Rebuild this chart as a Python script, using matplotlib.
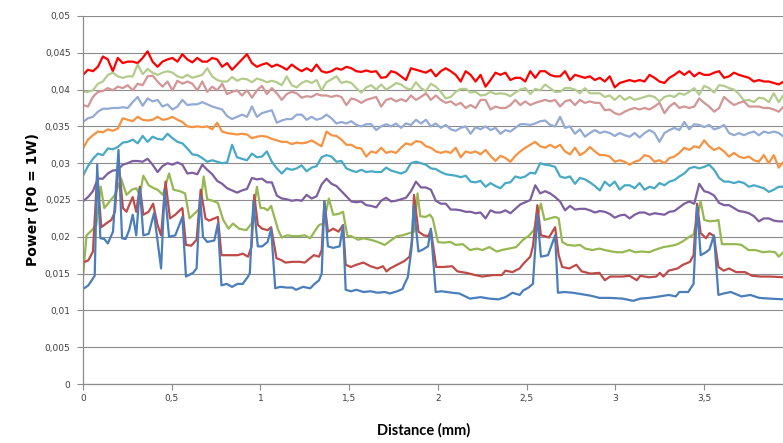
import numpy as np
import matplotlib
matplotlib.use("Agg")
import matplotlib.pyplot as plt
from matplotlib.ticker import FuncFormatter

# values in units of 1e-3 W (P0 = 1 W)
# upper curves: sampled every 0.028 mm
step_mm = 0.028

top_red = [42.0, 42.7, 42.5, 43.1, 44.5, 44.1, 42.5, 44.3, 43.6, 43.8,
           43.8, 43.6, 44.3, 45.2, 43.8, 43.1, 43.8, 44.1, 44.3, 43.8,
           44.8, 44.1, 43.7, 44.3, 43.8, 43.8, 44.3, 44.1, 43.1, 43.6,
           42.7, 43.4, 44.1, 44.8, 43.6, 43.1, 43.4, 43.6, 43.1, 43.4,
           43.1, 42.7, 43.4, 42.9, 42.5, 42.9, 42.5, 43.4, 42.5, 42.3,
           42.5, 42.9, 42.7, 43.1, 42.9, 42.5, 42.4, 42.6, 42.4, 42.5,
           41.6, 41.7, 42.5, 42.3, 41.8, 41.3, 42.9, 42.7, 42.5, 42.3,
           42.7, 41.8, 42.5, 42.9, 42.5, 42.0, 41.1, 42.5, 42.0, 41.1,
           42.0, 40.4, 41.3, 42.3, 42.0, 42.3, 41.3, 41.6, 41.6, 41.1,
           42.5, 41.6, 42.5, 42.5, 42.0, 41.8, 41.8, 42.5, 41.3, 42.0,
           41.8, 41.6, 41.8, 41.3, 41.6, 41.1, 41.8, 40.3, 40.9, 41.1,
           41.3, 41.1, 41.3, 41.1, 42.0, 41.6, 41.1, 40.9, 41.6, 42.0,
           42.5, 42.0, 42.5, 41.8, 42.3, 42.0, 42.0, 42.3, 42.5, 41.6,
           41.8, 42.3, 42.0, 41.8, 41.6, 41.1, 41.3, 41.1, 41.1, 40.9,
           40.7, 41.1]

light_green = [39.7, 39.7, 39.9, 40.8, 41.1, 42.0, 42.3, 41.8, 41.6, 41.8,
               41.8, 43.4, 42.1, 42.8, 42.3, 42.0, 42.3, 42.5, 42.3, 41.8,
               41.6, 42.0, 41.6, 41.8, 42.0, 42.9, 41.8, 41.3, 41.1, 41.1,
               41.7, 41.2, 41.5, 41.4, 41.0, 41.5, 41.3, 41.0, 41.2, 41.0,
               40.6, 41.8, 40.6, 40.3, 40.9, 41.2, 40.9, 41.3, 39.9, 41.0,
               41.4, 41.8, 40.9, 41.1, 40.9, 40.2, 39.6, 40.3, 40.6, 40.0,
               40.7, 40.0, 40.4, 40.9, 40.7, 40.2, 40.0, 41.0, 40.2, 39.8,
               40.8, 40.4, 39.7, 38.8, 39.0, 39.7, 40.1, 40.1, 39.6, 39.7,
               39.2, 39.3, 39.7, 39.4, 39.5, 39.4, 39.1, 39.6, 40.0, 40.2,
               39.4, 40.1, 39.9, 40.7, 40.2, 39.7, 39.7, 40.2, 40.2, 40.0,
               39.5, 40.2, 39.5, 39.5, 39.5, 39.0, 39.2, 38.6, 39.2, 38.6,
               39.0, 38.6, 38.8, 39.0, 39.2, 39.0, 38.4, 39.0, 39.2, 39.0,
               39.5, 39.3, 39.7, 40.2, 39.3, 40.5, 40.2, 39.6, 40.6, 40.5,
               40.2, 40.0, 39.4, 38.5, 38.6, 38.3, 38.9, 38.8, 38.3, 39.5,
               38.3, 39.3]

pink = [37.9, 37.7, 39.0, 39.7, 39.8, 40.2, 39.9, 40.4, 40.2, 40.6,
        39.9, 40.8, 40.6, 41.8, 41.9, 41.1, 40.4, 41.1, 39.9, 41.2,
        40.8, 41.1, 40.8, 39.9, 41.1, 39.7, 40.4, 39.9, 40.8, 39.4,
        39.7, 39.9, 39.2, 39.9, 38.9, 39.9, 40.5, 39.4, 40.2, 39.5,
        38.6, 39.4, 39.7, 39.5, 38.9, 39.1, 39.0, 39.4, 39.2, 39.2,
        39.0, 39.2, 39.0, 37.9, 38.8, 38.6, 38.2, 38.6, 38.8, 39.0,
        37.7, 38.6, 38.8, 38.4, 38.7, 38.4, 39.2, 38.6, 39.0, 39.5,
        38.6, 39.2, 38.6, 38.2, 38.4, 37.9, 38.2, 37.5, 37.9, 37.5,
        38.6, 38.6, 37.3, 37.7, 37.5, 37.5, 37.9, 38.6, 37.9, 38.4,
        37.9, 38.2, 38.4, 38.6, 38.4, 38.6, 37.7, 38.4, 38.6, 37.9,
        38.6, 38.2, 38.4, 38.2, 38.2, 37.2, 37.3, 36.8, 36.6, 37.0,
        37.3, 37.5, 37.3, 37.5, 37.3, 37.7, 38.2, 36.8, 37.7, 38.2,
        37.5, 37.7, 37.5, 37.7, 38.8, 38.2, 37.7, 37.0, 37.5, 39.0,
        38.4, 37.9, 38.2, 38.4, 37.7, 37.7, 37.7, 37.5, 37.5, 37.3,
        37.0, 37.7]

light_blue = [35.6, 36.1, 36.3, 37.0, 37.4, 37.4, 37.5, 37.5, 37.6, 37.5,
              38.3, 39.0, 37.8, 38.8, 38.4, 38.6, 37.7, 38.0, 37.3, 37.7,
              38.6, 37.9, 38.0, 38.0, 38.3, 38.0, 37.7, 37.5, 37.3, 36.4,
              36.0, 36.3, 36.6, 36.3, 37.7, 36.3, 36.8, 37.0, 37.2, 35.5,
              35.8, 36.0, 36.0, 36.6, 36.6, 35.9, 36.3, 35.9, 36.1, 36.6,
              36.1, 35.4, 35.6, 35.4, 35.7, 35.2, 35.0, 35.3, 35.3, 34.5,
              35.0, 35.3, 35.0, 35.4, 34.8, 35.4, 35.2, 35.9, 35.4, 35.9,
              35.0, 35.4, 34.8, 35.2, 34.6, 34.4, 34.8, 35.0, 34.0, 34.9,
              34.6, 35.0, 34.5, 34.8, 34.0, 34.5, 34.3, 34.8, 35.3, 35.3,
              35.2, 35.4, 35.7, 35.8, 35.2, 35.0, 36.3, 34.8, 35.0, 34.0,
              34.6, 33.6, 34.1, 34.5, 34.1, 34.3, 34.1, 33.7, 34.1, 33.8,
              33.6, 34.1, 33.5, 34.1, 34.5, 34.1, 32.9, 34.1, 34.5, 34.8,
              34.5, 35.6, 34.6, 35.3, 35.2, 34.9, 35.2, 34.6, 34.8, 35.2,
              34.1, 33.8, 34.1, 33.8, 34.1, 34.3, 33.8, 34.3, 34.1, 34.3,
              34.1, 33.6]

orange = [32.0, 33.2, 33.8, 34.3, 34.2, 34.6, 34.4, 34.7, 36.1, 35.9,
          35.7, 36.3, 35.9, 35.8, 35.9, 36.3, 35.9, 36.0, 36.3, 35.9,
          35.6, 35.0, 34.9, 35.0, 34.9, 35.0, 34.6, 35.5, 34.3, 34.1,
          34.0, 33.9, 34.0, 33.9, 33.4, 33.6, 33.7, 33.6, 33.3, 33.1,
          32.9, 32.9, 32.6, 32.8, 32.7, 32.8, 33.1, 32.7, 32.3, 34.3,
          33.8, 33.7, 33.2, 32.5, 32.5, 32.1, 32.0, 30.9, 31.6, 31.4,
          32.1, 31.4, 31.6, 31.4, 32.1, 32.7, 32.5, 33.0, 32.9, 32.3,
          32.1, 31.6, 31.4, 31.6, 31.4, 32.1, 30.8, 31.6, 31.4, 31.6,
          31.2, 31.8, 31.0, 30.3, 31.0, 30.7, 30.2, 31.0, 31.6, 32.1,
          32.5, 32.9, 32.3, 32.1, 32.5, 32.1, 32.5, 31.6, 31.2, 32.1,
          31.1, 31.5, 32.2, 31.6, 31.1, 31.1, 30.9, 30.2, 30.4, 30.2,
          29.8, 30.2, 30.4, 31.1, 30.9, 30.2, 30.4, 30.0, 30.7, 30.9,
          31.4, 32.1, 31.8, 32.3, 32.1, 33.1, 32.3, 31.8, 32.1, 31.6,
          30.9, 31.4, 30.9, 30.7, 30.9, 30.4, 30.2, 31.1, 30.0, 31.1,
          29.4, 30.2]

teal = [28.3, 29.6, 30.6, 31.3, 31.1, 32.0, 31.9, 32.2, 32.8, 32.9,
        33.2, 32.7, 33.7, 32.9, 33.6, 33.3, 33.2, 34.0, 33.4, 32.9,
        32.7, 32.0, 31.2, 31.1, 30.7, 30.2, 30.4, 30.2, 30.0, 30.1,
        32.5, 30.8, 30.6, 30.4, 31.3, 30.8, 30.9, 31.6, 30.2, 29.3,
        28.6, 29.3, 29.1, 29.3, 29.7, 28.9, 29.4, 29.6, 30.8, 31.1,
        30.9, 30.2, 30.3, 29.3, 29.0, 28.8, 29.1, 28.8, 28.9, 28.8,
        28.8, 29.4, 29.0, 28.8, 28.6, 28.9, 30.0, 30.2, 30.0, 29.8,
        29.3, 29.2, 28.8, 28.5, 28.4, 28.3, 28.1, 28.3, 27.5, 27.4,
        27.6, 26.8, 27.3, 26.9, 26.6, 27.3, 27.4, 28.2, 28.0, 28.2,
        28.7, 28.6, 30.0, 29.8, 29.7, 29.5, 28.2, 28.0, 28.2, 27.2,
        28.0, 27.8, 27.4, 26.9, 26.3, 27.5, 26.9, 27.5, 26.4, 27.0,
        27.0, 26.6, 27.3, 26.4, 26.8, 26.6, 27.3, 27.0, 27.5, 27.7,
        28.2, 28.6, 29.3, 29.5, 29.3, 29.5, 29.8, 29.1, 28.0, 27.5,
        27.5, 27.3, 27.5, 27.3, 26.8, 27.0, 26.8, 26.6, 26.1, 26.4,
        26.8, 26.8]

purple = [24.8, 25.4, 26.2, 27.9, 27.9, 28.6, 29.0, 29.1, 29.8, 30.0,
          30.3, 30.3, 30.2, 30.6, 29.8, 28.8, 29.6, 30.0, 29.8, 30.1,
          29.8, 28.6, 28.7, 28.5, 29.8, 29.1, 28.5, 27.6, 27.2, 26.6,
          26.3, 26.0, 26.3, 26.5, 28.0, 27.8, 27.9, 27.4, 27.4, 25.6,
          25.2, 25.1, 24.9, 25.0, 24.9, 25.7, 25.2, 25.5, 27.1, 27.9,
          27.2, 26.9, 26.2, 25.5, 24.8, 24.7, 24.8, 24.3, 24.2, 24.0,
          24.9, 25.3, 24.8, 24.9, 25.1, 25.3, 26.2, 27.5, 26.7, 26.7,
          26.4, 24.9, 24.5, 24.5, 23.7, 23.7, 23.6, 23.4, 23.4, 23.2,
          23.3, 22.5, 23.6, 23.3, 23.3, 23.6, 23.2, 23.8, 24.4, 24.7,
          25.0, 27.0, 25.9, 26.2, 25.9, 25.4, 24.8, 23.6, 24.2, 23.7,
          23.8, 23.8, 23.6, 23.3, 23.5, 23.4, 23.1, 22.6, 22.9, 23.0,
          22.5, 23.0, 23.3, 23.3, 23.0, 23.2, 23.1, 23.0, 23.4, 23.5,
          24.0, 24.5, 24.8, 24.5, 27.2, 26.2, 26.0, 25.6, 24.6, 24.3,
          24.3, 23.9, 23.5, 23.4, 23.2, 22.8, 22.1, 22.5, 22.5, 22.2,
          22.1, 22.1]

# lower curves with sharp peaks: explicit distances (mm)
green_x = [0, 0.02, 0.05, 0.075, 0.10, 0.12, 0.15, 0.18, 0.215, 0.245, 0.275, 0.30,
           0.32, 0.34, 0.37, 0.40, 0.42, 0.45, 0.485, 0.51, 0.545, 0.575, 0.60, 0.63,
           0.66, 0.68, 0.70, 0.73, 0.76, 0.79, 0.82, 0.845, 0.88, 0.92, 0.95, 0.98,
           1.0, 1.02, 1.04, 1.06, 1.10, 1.12, 1.15, 1.18, 1.22, 1.25, 1.28, 1.31,
           1.33, 1.355, 1.385, 1.41, 1.44, 1.465, 1.49, 1.51, 1.55, 1.58, 1.62, 1.66,
           1.70, 1.74, 1.77, 1.80, 1.84, 1.865, 1.885, 1.90, 1.93, 1.955, 1.97, 2.00,
           2.03, 2.07, 2.10, 2.14, 2.18, 2.22, 2.25, 2.29, 2.33, 2.36, 2.40, 2.44,
           2.48, 2.51, 2.54, 2.58, 2.60, 2.63, 2.66, 2.68, 2.70, 2.73, 2.77, 2.80,
           2.83, 2.87, 2.91, 2.94, 2.98, 3.01, 3.04, 3.08, 3.11, 3.15, 3.19, 3.22,
           3.27, 3.32, 3.35, 3.38, 3.41, 3.44, 3.48, 3.50, 3.53, 3.57, 3.58, 3.60,
           3.64, 3.68, 3.71, 3.75, 3.79, 3.83, 3.87, 3.90, 3.92, 3.95]
green = [14.6, 20.2, 20.9, 21.6, 26.8, 23.9, 24.8, 25.7, 27.9, 25.7, 26.4, 26.6,
         25.7, 28.3, 27.0, 26.6, 26.4, 25.7, 28.6, 26.4, 26.2, 25.9, 22.5, 23.2,
         23.9, 28.2, 25.1, 24.9, 24.6, 22.3, 21.1, 21.8, 21.1, 20.9, 21.8, 26.8,
         23.9, 23.9, 23.6, 24.2, 20.9, 19.9, 20.2, 20.1, 20.1, 20.2, 19.8, 20.9,
         21.6, 21.8, 25.2, 23.0, 23.1, 23.4, 20.1, 20.1, 19.6, 19.8, 19.6, 19.3,
         18.9, 19.6, 20.1, 20.2, 20.5, 20.7, 25.9, 22.8, 22.7, 23.0, 22.5, 19.3,
         19.2, 19.3, 18.9, 19.0, 18.2, 18.4, 18.2, 18.6, 18.0, 18.2, 18.4, 18.6,
         19.6, 20.1, 20.9, 24.5, 22.3, 22.5, 22.7, 22.5, 19.3, 18.9, 18.8, 18.9,
         18.4, 18.2, 18.4, 18.2, 18.0, 17.9, 17.9, 18.2, 17.9, 18.0, 17.9, 18.2,
         18.6, 18.8, 19.0, 19.4, 19.9, 20.3, 24.8, 22.3, 22.1, 22.2, 22.3, 19.0,
         19.0, 19.0, 18.9, 18.2, 18.2, 17.9, 18.0, 17.9, 17.3, 18.0]

red_x = [0, 0.03, 0.056, 0.08, 0.103, 0.13, 0.16, 0.18, 0.20, 0.225, 0.245, 0.26,
         0.28, 0.30, 0.32, 0.34, 0.37, 0.395, 0.42, 0.44, 0.465, 0.49, 0.52, 0.545,
         0.56, 0.58, 0.61, 0.64, 0.663, 0.69, 0.71, 0.74, 0.76, 0.78, 0.83, 0.87,
         0.90, 0.93, 0.95, 0.965, 0.985, 1.01, 1.04, 1.06, 1.09, 1.12, 1.14, 1.18,
         1.22, 1.25, 1.28, 1.30, 1.33, 1.345, 1.36, 1.38, 1.41, 1.44, 1.465, 1.48,
         1.51, 1.54, 1.58, 1.62, 1.66, 1.69, 1.71, 1.73, 1.77, 1.81, 1.84, 1.855,
         1.865, 1.89, 1.92, 1.945, 1.96, 1.99, 2.03, 2.08, 2.11, 2.16, 2.21, 2.25,
         2.31, 2.36, 2.38, 2.42, 2.46, 2.48, 2.52, 2.535, 2.56, 2.58, 2.60, 2.625,
         2.66, 2.68, 2.70, 2.74, 2.78, 2.81, 2.86, 2.91, 2.94, 2.97, 3.04, 3.08,
         3.12, 3.14, 3.19, 3.23, 3.25, 3.27, 3.30, 3.35, 3.38, 3.42, 3.44, 3.46,
         3.48, 3.51, 3.53, 3.555, 3.58, 3.61, 3.64, 3.68, 3.73, 3.77, 3.82, 3.87,
         3.95]
red = [16.5, 16.8, 18.0, 28.5, 21.3, 21.8, 22.3, 23.4, 30.4, 23.9, 23.4, 24.3,
       25.4, 23.4, 26.8, 23.0, 23.4, 24.5, 21.6, 20.2, 27.5, 22.5, 23.0, 23.6,
       23.9, 18.9, 18.8, 19.6, 26.4, 22.5, 22.2, 22.5, 22.7, 17.5, 17.5, 17.5,
       17.7, 17.3, 18.7, 25.7, 21.6, 21.1, 20.9, 21.3, 17.1, 16.8, 16.5, 16.6,
       16.6, 16.5, 17.1, 17.5, 17.3, 18.2, 24.8, 20.7, 21.1, 20.7, 21.6, 16.2,
       15.9, 16.2, 16.5, 16.0, 15.7, 16.0, 15.3, 15.7, 16.2, 16.7, 17.3, 19.6,
       25.7, 20.7, 20.2, 20.1, 20.9, 15.9, 15.9, 16.0, 15.3, 15.1, 14.8, 14.6,
       14.8, 14.8, 15.4, 15.2, 15.7, 16.3, 17.3, 18.7, 24.3, 20.2, 20.1, 19.9,
       21.3, 17.5, 15.9, 15.7, 16.2, 15.3, 15.0, 15.1, 14.1, 14.6, 14.6, 14.7,
       14.1, 14.7, 14.5, 14.6, 15.1, 14.6, 15.4, 15.7, 16.2, 16.6, 17.5, 24.5,
       20.5, 19.8, 20.5, 20.1, 15.9, 15.4, 15.7, 15.2, 15.2, 14.7, 14.6, 14.6,
       14.5]

blue_x = [0, 0.03, 0.066, 0.08, 0.098, 0.12, 0.14, 0.169, 0.20, 0.22, 0.24, 0.26,
          0.28, 0.30, 0.32, 0.34, 0.37, 0.40, 0.44, 0.46, 0.485, 0.52, 0.56, 0.58,
          0.62, 0.64, 0.66, 0.676, 0.70, 0.74, 0.76, 0.78, 0.81, 0.84, 0.87, 0.90,
          0.93, 0.94, 0.96, 0.985, 1.01, 1.04, 1.06, 1.083, 1.11, 1.15, 1.18, 1.20,
          1.24, 1.28, 1.305, 1.33, 1.345, 1.36, 1.38, 1.41, 1.446, 1.465, 1.48, 1.51,
          1.54, 1.58, 1.62, 1.66, 1.70, 1.73, 1.77, 1.80, 1.81, 1.83, 1.85, 1.863,
          1.89, 1.91, 1.944, 1.96, 1.987, 2.02, 2.08, 2.12, 2.18, 2.24, 2.29, 2.34,
          2.38, 2.42, 2.46, 2.48, 2.51, 2.535, 2.56, 2.58, 2.62, 2.66, 2.676, 2.71,
          2.76, 2.81, 2.86, 2.91, 2.97, 3.04, 3.10, 3.14, 3.19, 3.25, 3.30, 3.34,
          3.36, 3.41, 3.44, 3.46, 3.48, 3.51, 3.53, 3.555, 3.58, 3.61, 3.65, 3.71,
          3.76, 3.81, 3.87, 3.95]
blue = [12.9, 13.4, 14.7, 29.8, 19.8, 19.7, 19.1, 20.7, 31.8, 19.8, 19.7, 20.9,
        23.0, 20.2, 26.6, 20.2, 20.4, 23.2, 15.7, 26.4, 20.0, 20.2, 22.7, 14.6,
        15.1, 15.7, 25.5, 20.0, 19.3, 19.5, 21.8, 13.4, 13.6, 13.2, 13.6, 13.6,
        14.6, 15.1, 24.8, 18.7, 18.7, 19.3, 21.1, 13.0, 13.2, 13.1, 13.1, 12.8,
        13.2, 13.0, 13.6, 14.1, 15.0, 24.8, 18.7, 18.5, 18.7, 21.5, 12.8, 12.6,
        12.8, 12.5, 12.6, 12.4, 12.5, 12.3, 12.6, 12.9, 13.5, 14.5, 18.2, 24.3,
        18.0, 18.2, 18.7, 21.1, 12.5, 12.6, 12.4, 12.3, 11.6, 11.8, 11.6, 11.5,
        11.8, 12.4, 12.1, 12.7, 13.1, 13.6, 23.0, 17.3, 17.5, 20.2, 12.4, 12.5,
        12.4, 12.2, 12.0, 11.7, 11.7, 11.6, 11.3, 11.6, 11.7, 11.9, 12.1, 11.9,
        12.5, 12.5, 13.6, 24.1, 17.5, 17.9, 18.3, 20.2, 12.1, 12.3, 12.5, 11.9,
        12.1, 11.7, 11.6, 11.5]

series = [
    (None, top_red, "#FF0000"),
    (None, light_green, "#B3CC8C"),
    (None, pink, "#D19695"),
    (None, light_blue, "#93AAD4"),
    (None, orange, "#F59342"),
    (None, teal, "#47A9C4"),
    (None, purple, "#7D5FA0"),
    (green_x, green, "#96B852"),
    (red_x, red, "#BE4B48"),
    (blue_x, blue, "#4A7EBB"),
]

fig = plt.figure(figsize=(7.83, 4.43), dpi=100)
ax = fig.add_axes([83 / 783, 59 / 443, 700 / 783, 368 / 443])

for xs, ys, col in series:
    ys = np.array(ys) / 1000.0
    if xs is None:
        xs = np.arange(len(ys)) * step_mm
    ax.plot(xs, ys, color=col, lw=1.6, solid_joinstyle="round")

ax.set_xlim(0, 3.944)
ax.set_ylim(0, 0.05)
ax.set_yticks(np.arange(0, 0.0501, 0.005))
ax.set_xticks(np.arange(0, 3.6, 0.5))

comma = FuncFormatter(lambda v, p: ("%g" % round(v, 4)).replace(".", ","))
ax.xaxis.set_major_formatter(comma)
ax.yaxis.set_major_formatter(comma)

ax.set_axisbelow(True)
ax.yaxis.grid(True, color="#8C8C8C", lw=0.8)
for s in ["top", "right"]:
    ax.spines[s].set_visible(False)
for s in ["left", "bottom"]:
    ax.spines[s].set_color("#8C8C8C")
    ax.spines[s].set_linewidth(0.9)
ax.tick_params(axis="both", direction="out", length=4, width=0.8,
               color="#8C8C8C", labelsize=6.5, labelcolor="#404040")
ax.tick_params(axis="y", pad=5)

ax.set_xlabel("Distance (mm)", fontsize=10.5, fontweight="bold", family="Lato")
ax.set_ylabel("Power (P0 = 1W)", fontsize=10, fontweight="bold", family="DejaVu Sans")
ax.xaxis.set_label_coords(0.486, -0.105)
ax.yaxis.set_label_coords(-0.062, 0.5)

fig.savefig("out.png", dpi=100)
